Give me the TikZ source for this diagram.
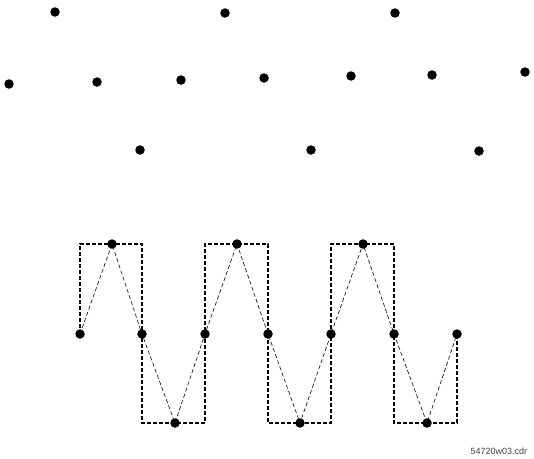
\documentclass[tikz,border=0pt]{standalone}
\usepackage{fontspec}
\setsansfont{Liberation Sans}
\usetikzlibrary{calc}

\begin{document}
\begin{tikzpicture}[
  x=1pt,y=-1pt,
  dot/.style={circle,fill=black,inner sep=0pt,minimum size=9.5pt},
  sqwave/.style={dashed,dash pattern=on 4pt off 2pt,line width=1.3pt},
  triwave/.style={dashed,dash pattern=on 4pt off 2.5pt,line width=0.6pt},
  tag/.style={font=\sffamily\fontsize{9}{9}\selectfont,text=black!75,anchor=base west}
]
  \useasboundingbox (0,0) rectangle (534,458);

  % scattered samples
  \node[dot] (a1) at (55,12) {};
  \node[dot] (a2) at (225,13) {};
  \node[dot] (a3) at (395,13) {};
  \node[dot] (b1) at (9,84) {};
  \node[dot] (b2) at (97,82) {};
  \node[dot] (b3) at (181,80) {};
  \node[dot] (b4) at (264,78) {};
  \node[dot] (b5) at (351,76) {};
  \node[dot] (b6) at (432,75) {};
  \node[dot] (b7) at (525,72) {};
  \node[dot] (c1) at (140,150) {};
  \node[dot] (c2) at (311,150) {};
  \node[dot] (c3) at (479,151) {};

  % reconstructed waveform
  \node[dot] (m1) at (80,334) {};
  \node[dot] (m2) at (142,334) {};
  \node[dot] (m3) at (205,334) {};
  \node[dot] (m4) at (268,334) {};
  \node[dot] (m5) at (331,334) {};
  \node[dot] (m6) at (394,334) {};
  \node[dot] (m7) at (457,334) {};
  \node[dot] (t1) at (112,244) {};
  \node[dot] (t2) at (237,244) {};
  \node[dot] (t3) at (363,244) {};
  \node[dot] (d1) at (175,423) {};
  \node[dot] (d2) at (300,423) {};
  \node[dot] (d3) at (427,423) {};

  \draw[sqwave] (m1.center) -- (m1 |- t1) -- (m2 |- t1) -- (m2 |- d1)
    -- (m3 |- d1) -- (m3 |- t2) -- (m4 |- t2) -- (m4 |- d2)
    -- (m5 |- d2) -- (m5 |- t3) -- (m6 |- t3) -- (m6 |- d3)
    -- (m7 |- d3) -- (m7.center);

  \draw[triwave] (m1.center) -- (t1.center) -- (m2.center) -- (d1.center)
    -- (m3.center) -- (t2.center) -- (m4.center) -- (d2.center)
    -- (m5.center) -- (t3.center) -- (m6.center) -- (d3.center)
    -- (m7.center);

  \node[tag] (fname) at (467,454) {54720w03.cdr};
\end{tikzpicture}
\end{document}
